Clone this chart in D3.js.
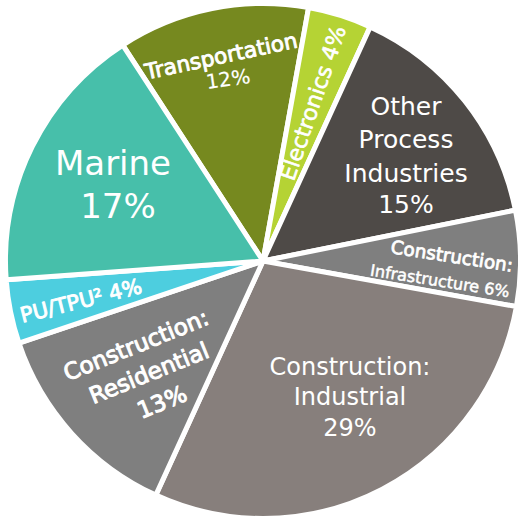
<!DOCTYPE html>
<html>
<head>
<meta charset="utf-8">
<script src="https://cdn.jsdelivr.net/npm/d3@7"></script>
<style>
  html, body { margin: 0; padding: 0; background: #ffffff; }
  svg { display: block; }
  text { font-family: "DejaVu Sans", sans-serif; fill: #ffffff; }
</style>
</head>
<body>
<svg id="chart" width="518" height="518"></svg>
<script>
// Market share by end use (percent), listed clockwise from the top
const categories = [
  "Transportation",
  "Electronics",
  "Other Process Industries",
  "Construction: Infrastructure",
  "Construction: Industrial",
  "Construction: Residential",
  "PU/TPU²",
  "Marine"
];
const shares = [12, 4, 15, 6, 29, 13, 4, 17];
const sliceColors = [
  "#76891f", "#b5d334", "#4e4a47", "#7f7f7f",
  "#877f7c", "#7f7f7f", "#4dcedf", "#47bfaa"
];

// How each slice label is broken into lines ({pct} is replaced by the share)
const labelLines = [
  ["Transportation", "{pct}"],
  ["Electronics {pct}"],
  ["Other", "Process", "Industries", "{pct}"],
  ["Construction:", "Infrastructure {pct}"],
  ["Construction:", "Industrial", "{pct}"],
  ["Construction:", "Residential", "{pct}"],
  ["PU/TPU² {pct}"],
  ["Marine", "{pct}"]
];

// Label placement per line: offset from the pie centre, rotation, size, outline weight
const labelLayout = [
  [{dx: -42, dy: -205, rot: -12, size: 21.5, bold: 0.9, mid: true},
   {dx: -35, dy: -182, rot: -8, size: 20, bold: 0.2, mid: true}],
  [{dx: 50, dy: -158, rot: -71, size: 22, bold: 0.6, mid: true}],
  [{dx: 143, dy: -146, size: 25},
   {dx: 143, dy: -113, size: 25},
   {dx: 143, dy: -79, size: 25},
   {dx: 143, dy: -48, size: 25}],
  [{dx: 189, dy: -5, rot: 8.8, size: 18.4, bold: 0.8, mid: true},
   {dx: 177, dy: 20, rot: 9, size: 16.1, bold: 0.5, mid: true}],
  [{dx: 87, dy: 114, size: 24},
   {dx: 87, dy: 144, size: 24},
   {dx: 87, dy: 175, size: 24}],
  [{dx: -127, dy: 84, rot: -22, size: 23, bold: 1, mid: true},
   {dx: -114, dy: 112, rot: -22, size: 23, bold: 1, mid: true},
   {dx: -101, dy: 141, rot: -22, size: 23, bold: 1, mid: true}],
  [{dx: -182, dy: 40, rot: -14, size: 21, bold: 0.9, mid: true}],
  [{dx: -150, dy: -86, size: 34},
   {dx: -145, dy: -43, size: 34}]
];

const width = 518, height = 518;
const cx = 263, cy = 261;
const radius = 257.5;
const gap = 5;

const svg = d3.select("#chart");
const g = svg.append("g").attr("transform", `translate(${cx},${cy})`);

const startAngle = -33 * Math.PI / 180;
const pie = d3.pie()
  .value(d => d.value)
  .sort(null)
  .startAngle(startAngle)
  .endAngle(startAngle + 2 * Math.PI);

const data = categories.map((name, i) => ({name, value: shares[i], color: sliceColors[i], index: i}));
const arcs = pie(data);

const arc = d3.arc().innerRadius(0).outerRadius(radius);

g.selectAll("path.slice")
  .data(arcs)
  .join("path")
  .attr("class", "slice")
  .attr("d", arc)
  .attr("fill", d => d.data.color)
  .attr("stroke", "#ffffff")
  .attr("stroke-width", gap)
  .attr("stroke-linejoin", "miter");

// Slice labels
arcs.forEach((a, i) => {
  const lines = labelLines[i];
  lines.forEach((ln, j) => {
    const spec = labelLayout[i][j];
    const txt = ln.replace("{pct}", `${a.data.value}%`);
    const t = g.append("text")
      .attr("transform", `translate(${spec.dx},${spec.dy}) rotate(${spec.rot || 0})`)
      .attr("text-anchor", "middle")
      .attr("font-size", spec.size)
      .text(txt);
    if (spec.mid) t.attr("dominant-baseline", "central");
    if (spec.bold) {
      t.attr("stroke", "#ffffff")
       .attr("stroke-width", spec.bold)
       .attr("stroke-linejoin", "round");
    }
  });
});
</script>
</body>
</html>
